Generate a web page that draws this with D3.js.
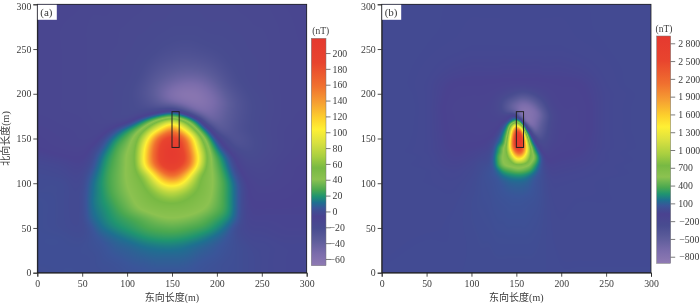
<!DOCTYPE html>
<html><head><meta charset="utf-8">
<script src="https://cdn.jsdelivr.net/npm/d3@7"></script>
<style>
html,body{margin:0;padding:0;background:#fff;overflow:hidden}
#wrap{position:relative;width:700px;height:303px}
canvas{position:absolute;display:block}
svg{position:absolute;left:0;top:0}
text{font-family:"Liberation Serif","Noto Sans CJK SC",serif;fill:#3a3a3a}
</style></head><body><div id="wrap"></div>
<script>
const rampT=[0,.107,.21,.284,.35,.40,.46,.52,.57,.62,.666,.695,.722,.747,.762,.784,.835,.887,.945,1];
const rampColors=["#e5392f","#e8442e","#f0702f","#f6a032","#fdd02c","#fff034","#d8e040","#a8cf40","#78b943","#8cc250","#4aa850","#1f9470","#1e7090","#3a5599","#414c93","#4a4290","#484c90","#5c5c9a","#7a6cab","#8f7ab3"];
const axisTicks=[0,50,100,150,200,250,300];

const xA=[0,25,50,60,70,80,90,100,110,120,130,140,150,160,170,180,190,200,210,220,230,240,250,275,300];
const yA=[300,275,250,235,220,210,200,190,180,175,170,160,150,140,130,120,110,100,90,80,70,60,50,40,30,20,10,0];
const gridA=[
[-11,-12,-13,-14,-14,-14,-15,-15,-15,-16,-16,-16,-17,-17,-17,-17,-16,-16,-16,-16,-15,-15,-15,-13,-12],
[-12,-13,-14,-15,-15,-15,-16,-16,-17,-17,-18,-18,-19,-19,-19,-19,-18,-18,-18,-17,-17,-16,-16,-14,-12],
[-12,-13,-14,-15,-15,-16,-16,-17,-18,-19,-20,-22,-23,-24,-24,-23,-22,-21,-20,-19,-18,-17,-17,-14,-13],
[-12,-13,-14,-15,-15,-16,-17,-18,-19,-21,-24,-27,-29,-31,-31,-30,-28,-25,-22,-20,-19,-18,-17,-14,-13],
[-12,-13,-14,-15,-16,-16,-17,-18,-20,-24,-30,-35,-39,-42,-43,-42,-38,-32,-26,-22,-19,-18,-17,-14,-13],
[-12,-13,-14,-15,-16,-17,-18,-19,-22,-27,-35,-42,-48,-53,-55,-53,-47,-39,-30,-24,-21,-18,-17,-14,-13],
[-12,-13,-14,-15,-16,-17,-18,-20,-23,-29,-37,-47,-57,-63,-64,-62,-55,-46,-36,-28,-23,-20,-18,-14,-13],
[-12,-13,-14,-15,-16,-17,-18,-20,-22,-26,-32,-40,-47,-54,-60,-62,-58,-50,-40,-31,-25,-21,-19,-14,-13],
[-12,-13,-14,-15,-16,-17,-18,-20,-21,-20,-17,-10,-3,-15,-35,-50,-52,-46,-38,-30,-25,-21,-19,-14,-13],
[-11,-12,-13,-15,-16,-17,-19,-20,-18,-8,5,20,30,18,-2,-32,-47,-45,-37,-30,-24,-21,-18,-14,-12],
[-11,-12,-13,-14,-15,-17,-18,-15,0,19,40,62,75,58,32,0,-38,-41,-35,-29,-24,-21,-18,-14,-12],
[-9,-11,-12,-13,-14,-8,3,17,32,53,85,118,150,118,72,33,0,-30,-33,-27,-23,-20,-18,-13,-12],
[-8,-10,-12,-12,-6,6,20,32,48,85,140,185,197,180,130,68,29,-4,-22,-28,-26,-22,-19,-13,-11],
[-7,-9,-10,-6,1,15,29,38,55,105,160,200,215,195,148,85,44,13,-8,-22,-24,-22,-19,-13,-10],
[-4,-6,-7,-3,9,22,32,42,58,112,165,205,215,205,160,100,50,27,8,-8,-18,-20,-17,-12,-9],
[-2,-3,-5,0,13,25,33,42,56,108,155,195,205,190,155,93,48,32,14,-3,-12,-15,-15,-10,-8],
[-1,-2,-3,5,16,27,34,42,52,70,110,150,170,150,108,62,47,35,20,3,-8,-12,-13,-10,-7],
[0,0,-2,9,18,27,34,41,48,58,80,108,118,108,78,56,46,36,24,9,-4,-9,-11,-9,-7],
[0,0,-1,10,17,26,33,39,45,52,60,72,78,70,60,52,45,35,24,10,-3,-8,-9,-8,-6],
[1,0,-1,11,17,23,30,36,42,48,53,56,58,56,52,47,42,34,24,10,-3,-7,-7,-7,-6],
[1,0,-1,10,15,20,26,32,38,42,45,47,47,47,45,42,38,31,24,10,-3,-6,-6,-6,-6],
[1,0,-1,8,13,18,22,25,28,32,36,39,40,39,37,34,29,24,18,8,-3,-5,-5,-5,-5],
[1,0,-1,3,10,14,18,21,24,27,29,30,31,30,28,26,23,17,10,1,-3,-4,-4,-5,-5],
[1,1,0,2,5,8,11,14,17,20,22,23,23,22,20,17,13,9,5,1,-2,-3,-3,-4,-4],
[1,1,1,2,3,5,7,8,10,12,13,14,14,13,11,9,7,5,3,1,0,-2,-2,-3,-3],
[1,1,1,1,2,4,5,6,7,8,9,9,9,9,8,6,5,4,2,1,0,-1,-2,-3,-3],
[1,1,1,1,2,2,3,4,5,5,6,6,6,6,5,4,3,2,1,1,0,-1,-2,-3,-3],
[0,1,1,1,1,2,2,3,3,4,4,4,4,4,4,3,2,2,1,1,0,-1,-2,-3,-3]];

const xB=[0,50,80,100,110,120,125,130,135,140,145,150,155,160,165,170,175,180,185,190,200,220,250,300];
const yB=[300,250,225,210,200,195,190,185,180,175,170,165,160,155,150,145,140,135,130,125,120,115,110,105,100,90,80,60,30,0];
const gridB=[
[-15,-18,-20,-20,-20,-20,-20,-20,-20,-20,-20,-20,-20,-20,-20,-20,-20,-20,-20,-20,-20,-20,-18,-15],
[-15,-20,-25,-30,-30,-30,-30,-30,-30,-30,-30,-30,-30,-30,-30,-30,-30,-30,-30,-30,-30,-25,-20,-15],
[-15,-25,-50,-60,-60,-60,-60,-60,-65,-65,-65,-65,-65,-65,-65,-65,-65,-60,-60,-60,-60,-50,-25,-15],
[-15,-30,-85,-90,-90,-95,-95,-100,-105,-110,-115,-120,-125,-125,-120,-115,-110,-105,-100,-95,-90,-85,-30,-15],
[-15,-30,-100,-110,-110,-115,-130,-150,-180,-220,-260,-300,-330,-330,-300,-255,-210,-170,-140,-120,-100,-95,-35,-15],
[-15,-30,-105,-115,-115,-125,-150,-190,-250,-310,-370,-430,-490,-490,-450,-380,-300,-230,-170,-130,-105,-100,-35,-15],
[-15,-30,-110,-120,-120,-135,-165,-215,-300,-395,-490,-570,-640,-650,-600,-510,-400,-300,-210,-145,-110,-105,-35,-15],
[-15,-30,-115,-120,-125,-145,-170,-225,-315,-430,-540,-640,-740,-770,-730,-640,-505,-375,-260,-170,-115,-110,-35,-15],
[-15,-30,-115,-125,-135,-150,-165,-205,-270,-360,-430,-550,-760,-820,-800,-730,-610,-450,-310,-200,-125,-110,-35,-15],
[-15,-30,-110,-125,-135,-140,-150,-165,-170,-140,-50,-100,-620,-780,-800,-740,-640,-490,-340,-220,-130,-110,-35,-15],
[-15,-30,-110,-125,-130,-130,-135,-130,-110,-40,150,350,100,-700,-790,-720,-600,-460,-320,-210,-130,-110,-35,-15],
[-15,-30,-105,-120,-130,-125,-125,-105,-10,200,800,1300,700,-100,-650,-680,-560,-420,-300,-200,-130,-110,-35,-15],
[-15,-30,-105,-115,-125,-115,-100,-60,80,400,1300,2200,1800,300,-250,-570,-500,-390,-280,-190,-125,-110,-35,-15],
[-15,-30,-100,-110,-115,-100,-80,-15,180,550,1600,2700,2600,900,50,-350,-430,-350,-260,-180,-120,-105,-35,-15],
[-15,-30,-95,-100,-100,-80,-50,60,250,700,1800,2950,2950,1400,300,-100,-320,-300,-240,-170,-120,-100,-35,-15],
[-15,-30,-90,-90,-85,-60,-10,130,320,800,1900,2950,2900,1700,550,50,-200,-250,-210,-150,-115,-95,-35,-15],
[-15,-30,-85,-80,-70,-45,40,260,500,850,1850,2700,2700,1750,800,250,-60,-190,-180,-130,-105,-90,-35,-15],
[-15,-30,-75,-65,-50,-20,80,300,520,800,1500,2200,2300,1600,850,400,70,-120,-150,-110,-95,-80,-30,-15],
[-15,-25,-70,-55,-35,0,110,380,560,700,1150,1650,1700,1250,750,540,200,-40,-100,-95,-85,-70,-30,-15],
[-15,-25,-60,-40,-15,10,120,370,550,620,800,1150,1150,950,650,480,200,-15,-80,-80,-70,-60,-30,-15],
[-15,-25,-50,-30,0,25,100,330,500,570,600,650,650,600,520,330,130,-5,-55,-65,-60,-50,-25,-15],
[-15,-20,-40,-20,5,35,70,190,330,400,450,500,500,450,370,220,85,5,-40,-55,-50,-40,-25,-15],
[-15,-20,-35,-15,10,40,60,110,190,240,270,290,290,260,200,120,50,10,-30,-45,-40,-35,-25,-15],
[-15,-20,-30,-10,15,35,45,70,110,140,165,175,175,155,115,70,35,10,-20,-35,-35,-30,-20,-15],
[-15,-20,-25,-5,15,30,40,55,75,95,110,115,115,105,85,55,30,10,-15,-30,-30,-25,-20,-15],
[-15,-15,-20,0,15,25,35,45,55,65,70,75,75,70,60,45,30,10,-10,-25,-25,-25,-20,-15],
[-15,-15,-15,5,15,20,30,35,40,45,50,50,50,45,40,35,25,10,-5,-20,-25,-20,-20,-15],
[-15,-15,-10,5,10,15,20,25,25,30,30,30,30,30,25,20,15,5,-5,-15,-20,-15,-15,-15],
[-15,-10,-10,0,5,5,8,10,10,10,10,10,10,10,10,8,5,0,-5,-10,-15,-15,-15,-15],
[-10,-5,-5,0,0,0,0,0,0,0,0,0,0,0,0,0,0,0,-5,-5,-10,-10,-10,-10]];

const ticksA=[200,180,160,140,120,100,80,60,40,20,0,-20,-40,-60];
const ticksB=[2800,2500,2200,1900,1600,1300,1000,700,400,100,-200,-500,-800];
const domainA=[-68.5,218.6];
const domainB=[-911,2923];

const panels=[
 {label:"(a)",xs:xA,ys:yA,grid:gridA,ticks:ticksA,domain:domainA,px:[37.3,306.7],bar:[311.3,326,38.3,265.7],ytitle:true,nT:[320.7,31],neg:-3,pad:2,soft:3},
 {label:"(b)",xs:xB,ys:yB,grid:gridB,ticks:ticksB,domain:domainB,px:[381.7,651],bar:[656.7,670.7,36,263.3],ytitle:false,nT:[664,29],neg:1,pad:3,soft:1}
];
const sourceRect={x:[150,158],y:[140,180]};
const ptop=4.3,pbot=272.7;

const rampScale=d3.scaleLinear().domain(rampT).range(rampColors).interpolate(d3.interpolateRgb).clamp(true);

function resample(xs,vals,q){
  const n=xs.length;
  const m=i=>{
    if(i<=0)return (vals[1]-vals[0])/(xs[1]-xs[0]);
    if(i>=n-1)return (vals[n-1]-vals[n-2])/(xs[n-1]-xs[n-2]);
    return (vals[i+1]-vals[i-1])/(xs[i+1]-xs[i-1]);
  };
  return q.map(x=>{
    let i=Math.min(n-2,Math.max(0,d3.bisectRight(xs,x)-1));
    const h=xs[i+1]-xs[i],t=(x-xs[i])/h,t2=t*t,t3=t2*t;
    return (2*t3-3*t2+1)*vals[i]+(t3-2*t2+t)*h*m(i)+(-2*t3+3*t2)*vals[i+1]+(t3-t2)*h*m(i+1);
  });
}

const wrap=d3.select("#wrap");
const svg=wrap.append("svg").attr("width",700).attr("height",303);
const fmtTick=(v)=>{
  const a=Math.abs(v);
  let s=a>=1000?Math.floor(a/1000)+" "+String(a%1000).padStart(3,"0"):String(a);
  return (v<0?"\u2212":"")+s;
};

panels.forEach(p=>{
  const x=d3.scaleLinear().domain([0,300]).range(p.px);
  const y=d3.scaleLinear().domain([0,300]).range([pbot,ptop]);
  const bx0=Math.round(p.px[0]),bx1=Math.round(p.px[1]),by0=Math.round(ptop),by1=Math.round(pbot);
  const W=bx1-bx0,H=by1-by0;
  const cv=wrap.insert("canvas","svg").attr("width",W).attr("height",H).style("left",bx0+"px").style("top",by0+"px").node();
  const ctx=cv.getContext("2d"),img=ctx.createImageData(W,H);
  const qx=d3.range(W).map(i=>x.invert(bx0+i+.5));
  const qy=d3.range(H).map(j=>y.invert(by0+j+.5));
  const ysAsc=p.ys.slice().reverse();
  const rowsRes=p.grid.slice().reverse().map(r=>resample(p.xs,r,qx));
  const tScale=d3.scaleLinear().domain([p.domain[1],p.domain[0]]).range([0,1]).clamp(true);
  const field=new Float64Array(W*H);
  for(let i=0;i<W;i++){
    const col=resample(ysAsc,rowsRes.map(r=>r[i]),qy);
    for(let j=0;j<H;j++) field[j*W+i]=col[j];
  }
  d3.blur2({data:field,width:W,height:H},p.soft);
  for(let k=0;k<W*H;k++){
    const c=d3.rgb(rampScale(tScale(field[k])));
    img.data[k*4]=c.r;img.data[k*4+1]=c.g;img.data[k*4+2]=c.b;img.data[k*4+3]=255;
  }
  ctx.putImageData(img,0,0);

  const g=svg.append("g");
  g.append("rect").attr("x",p.px[0]).attr("y",ptop).attr("width",p.px[1]-p.px[0]).attr("height",pbot-ptop)
    .attr("fill","none").attr("stroke","#222").attr("stroke-width",.8);
  const xa=d3.axisBottom(x).tickValues(axisTicks).tickSize(4).tickPadding(3).tickFormat(d3.format("d"));
  const ya=d3.axisLeft(y).tickValues(axisTicks).tickSize(4).tickPadding(2).tickFormat(d3.format("d"));
  const gx=g.append("g").attr("transform",`translate(0,${pbot})`).call(xa);
  const gy=g.append("g").attr("transform",`translate(${p.px[0]},0)`).call(ya);
  [gx,gy].forEach(a=>{a.select(".domain").attr("stroke","#222").attr("stroke-width",.8);
    a.selectAll("line").attr("stroke","#222").attr("stroke-width",.8);
    a.selectAll("text").attr("font-size",9.8).attr("font-family",null).style("fill","#3a3a3a");});
  gy.selectAll("text").filter(d=>d===300).attr("dy","0.5em");

  g.append("rect").attr("x",x(sourceRect.x[0])).attr("y",y(sourceRect.y[1]))
    .attr("width",x(sourceRect.x[1])-x(sourceRect.x[0])).attr("height",y(sourceRect.y[0])-y(sourceRect.y[1]))
    .attr("fill","none").attr("stroke","#222").attr("stroke-width",1);

  g.append("rect").attr("x",p.px[0]+.5).attr("y",ptop+.5).attr("width",19).attr("height",15).attr("fill","#fff");
  g.append("text").attr("x",p.px[0]+3).attr("y",ptop+11.5).attr("font-size",11).text(p.label);

  g.append("text").attr("x",(p.px[0]+p.px[1])/2).attr("y",301).attr("text-anchor","middle").attr("font-size",10).text("东向长度(m)");
  if(p.ytitle) g.append("text").attr("transform",`translate(9,${(ptop+pbot)/2}) rotate(-90)`).attr("text-anchor","middle").attr("font-size",10).text("北向长度(m)");

  const [b0,b1,bt,bb]=p.bar;
  const gradId="grad"+p.label[1];
  const grad=svg.append("defs").append("linearGradient").attr("id",gradId).attr("x1",0).attr("x2",0).attr("y1",0).attr("y2",1);
  rampT.forEach((t,i)=>grad.append("stop").attr("offset",t).attr("stop-color",rampColors[i]));
  g.append("rect").attr("x",b0).attr("y",bt).attr("width",b1-b0).attr("height",bb-bt).attr("fill",`url(#${gradId})`).attr("stroke","#777").attr("stroke-width",.5);
  const by=d3.scaleLinear().domain(p.domain).range([bb,bt]);
  const ba=d3.axisRight(by).tickValues(p.ticks).tickSize(4.5).tickPadding(p.pad).tickFormat(fmtTick);
  const gb=g.append("g").attr("transform",`translate(${b1},0)`).call(ba);
  gb.select(".domain").remove();
  gb.selectAll("line").attr("stroke","#444").attr("stroke-width",.7);
  gb.selectAll("text").attr("font-size",9.8).attr("font-family",null).style("fill","#3a3a3a")
    .attr("dx",d=>d<0?p.neg:0);
  g.append("text").attr("x",p.nT[0]).attr("y",p.nT[1]+3).attr("text-anchor","middle").attr("font-size",9.5).text("(nT)");
});
</script></body></html>
